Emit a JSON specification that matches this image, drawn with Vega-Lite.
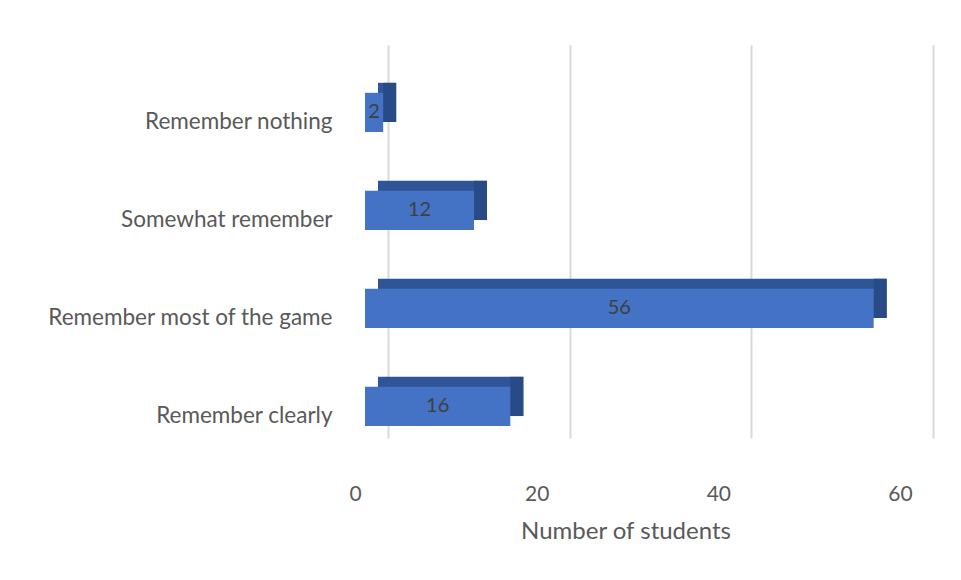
{
  "$schema": "https://vega.github.io/schema/vega-lite/v6.json",
  "autosize": {"type": "none"},
  "width": 545,
  "height": 393,
  "padding": {"left": 365, "top": 45, "right": 51, "bottom": 142},
  "background": "white",
  "config": {"view": {"stroke": null}, "font": "Lato"},
  "data": {
    "values": [
      {"response": "Remember nothing", "n": 2},
      {"response": "Somewhat remember", "n": 12},
      {"response": "Remember most of the game", "n": 56},
      {"response": "Remember clearly", "n": 16}
    ]
  },
  "encoding": {
    "y": {
      "field": "response",
      "type": "nominal",
      "sort": null,
      "scale": {"paddingInner": 0.6, "paddingOuter": 0.305, "align": 0.8},
      "axis": {
        "title": null,
        "domain": false,
        "ticks": false,
        "labelFontSize": 22.5,
        "labelColor": "#595959",
        "labelPadding": 33,
        "labelOffset": 10,
        "labelLimit": 400
      }
    }
  },
  "layer": [
    {
      "mark": {"type": "bar", "color": "#2f5597", "xOffset": 13, "x2Offset": 13, "yOffset": -10, "y2Offset": -10},
      "encoding": {
        "x": {
          "field": "n",
          "type": "quantitative",
          "scale": {"domain": [0, 60], "nice": false},
          "axis": {
            "title": "Number of students",
            "values": [0, 20, 40, 60],
            "domain": false,
            "ticks": false,
            "grid": true,
            "gridColor": "#d9d9d9",
            "gridWidth": 2,
            "tickOffset": 23,
            "labelOffset": -33,
            "labelFlush": false,
            "labelPadding": 45,
            "labelFontSize": 21,
            "labelColor": "#595959",
            "titleFontSize": 24,
            "titleFontWeight": "normal",
            "titleColor": "#595959",
            "titlePadding": 15,
            "titleX": 260.5
          }
        }
      }
    },
    {
      "mark": {"type": "rect", "color": "#284a86", "x2Offset": 13, "yOffset": -10, "y2Offset": -10},
      "encoding": {
        "x": {"field": "n", "type": "quantitative", "title": "Number of students"},
        "x2": {"field": "n"}
      }
    },
    {
      "mark": {"type": "bar", "color": "#4472c4"},
      "encoding": {
        "x": {"field": "n", "type": "quantitative", "title": "Number of students"}
      }
    },
    {
      "transform": [{"calculate": "datum.n / 2", "as": "mid"}],
      "mark": {"type": "text", "fontSize": 20, "color": "#404040", "baseline": "middle", "align": "center"},
      "encoding": {
        "x": {"field": "mid", "type": "quantitative", "title": "Number of students"},
        "text": {"field": "n", "type": "quantitative"}
      }
    }
  ]
}
